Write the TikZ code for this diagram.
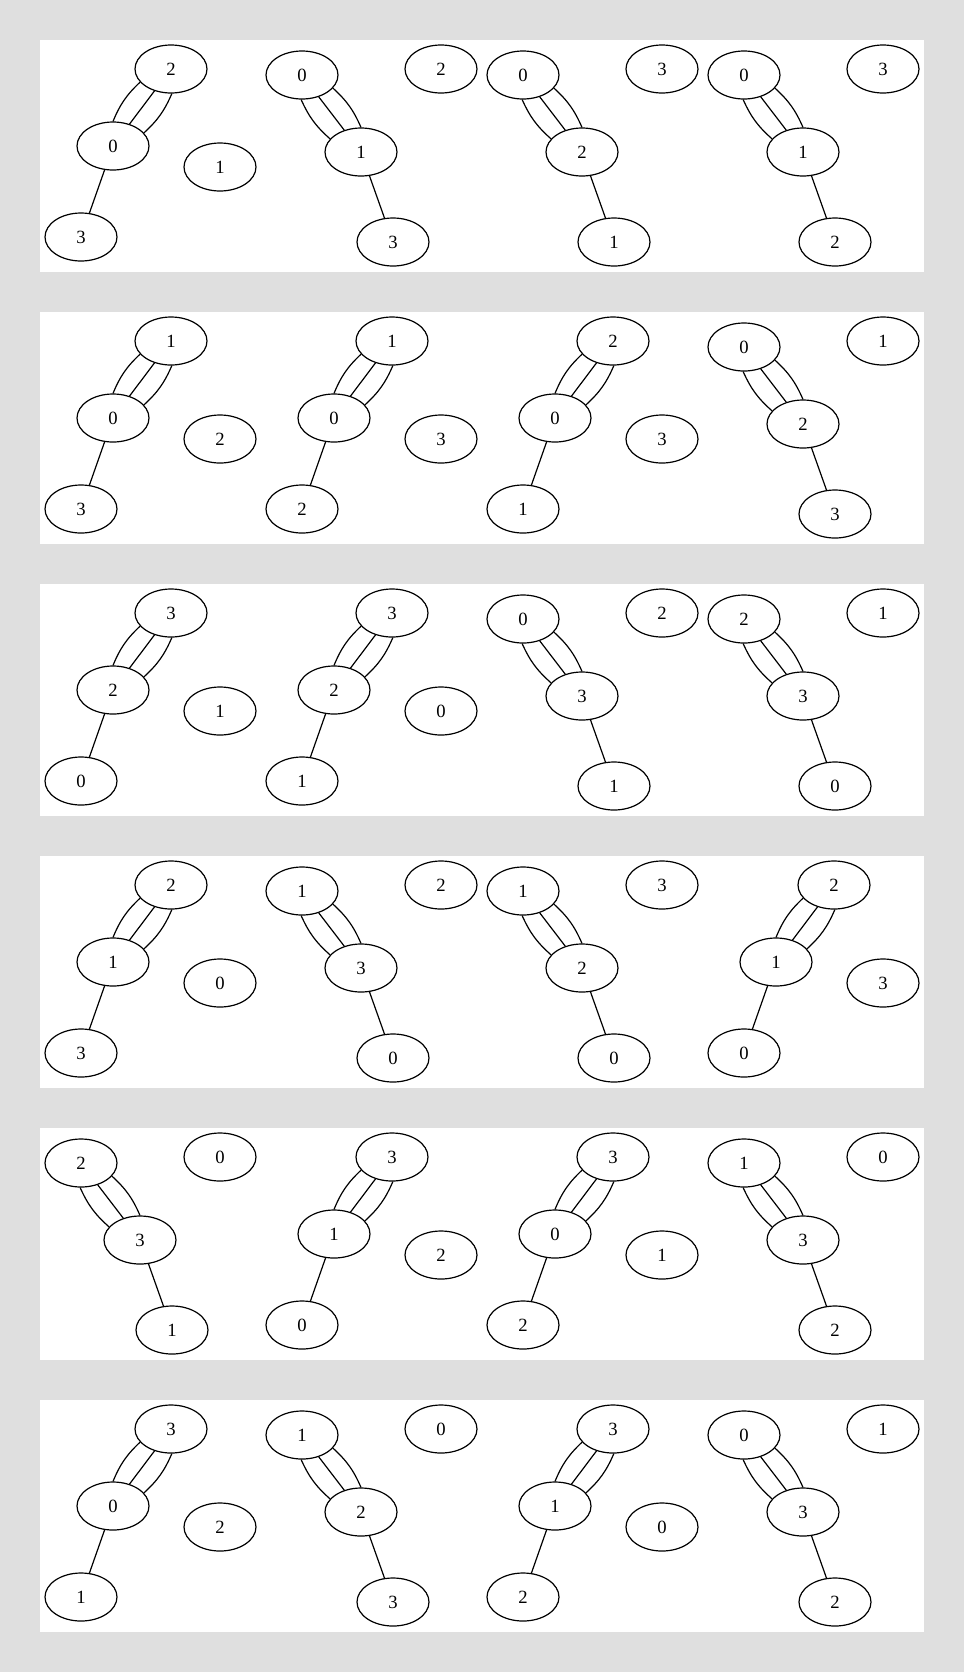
\documentclass[tikz,border=0pt]{standalone}
\usepackage{fontspec}
\setmainfont{Liberation Serif}
\usetikzlibrary{shapes.geometric}
\definecolor{pagegrey}{HTML}{DFDFDF}
\tikzset{
  vtx/.style={draw, ellipse, minimum width=54pt, minimum height=36pt, inner sep=0pt, line width=0.9pt, font=\fontsize{14}{16}\selectfont},
  bond/.style={line width=0.9pt}
}
% chain leaning right: triple bond up to the right, single bond down to the left
\newcommand{\molA}[7]{%
  \begin{scope}[shift={(#2,#3)}]
    \node[vtx] (#1t) at (171,69) {#4};
    \node[vtx] (#1m) at (113,146) {#5};
    \node[vtx] (#1b) at (81,237) {#6};
    \node[vtx] (#1i) at (220,167) {#7};
    \draw[bond] (#1t.203) to[bend right=12] (#1m.90);
    \draw[bond] (#1t) -- (#1m);
    \draw[bond] (#1t.272) to[bend left=12] (#1m.23);
    \draw[bond] (#1m) -- (#1b);
  \end{scope}%
}
% chain leaning left: triple bond up to the left, single bond down to the right
\newcommand{\molB}[7]{%
  \begin{scope}[shift={(#2,#3)}]
    \node[vtx] (#1t) at (81,75) {#4};
    \node[vtx] (#1m) at (140,152) {#5};
    \node[vtx] (#1b) at (172,242) {#6};
    \node[vtx] (#1i) at (220,69) {#7};
    \draw[bond] (#1t.337) to[bend left=12] (#1m.90);
    \draw[bond] (#1t) -- (#1m);
    \draw[bond] (#1t.268) to[bend right=12] (#1m.157);
    \draw[bond] (#1m) -- (#1b);
  \end{scope}%
}

\begin{document}
\begin{tikzpicture}[x=0.75pt, y=-0.75pt]
    \fill[pagegrey] (0,0) rectangle (964,1672);
    \foreach \k in {0,...,5} {
      \fill[white] (40,40+272*\k) rectangle (924,272+272*\k);
    }

    % row 1
    \molA{r1c1}{0}{0}{2}{0}{3}{1}
    \molB{r1c2}{221}{0}{0}{1}{3}{2}
    \molB{r1c3}{442}{0}{0}{2}{1}{3}
    \molB{r1c4}{663}{0}{0}{1}{2}{3}

    % row 2
    \molA{r2c1}{0}{272}{1}{0}{3}{2}
    \molA{r2c2}{221}{272}{1}{0}{2}{3}
    \molA{r2c3}{442}{272}{2}{0}{1}{3}
    \molB{r2c4}{663}{272}{0}{2}{3}{1}

    % row 3
    \molA{r3c1}{0}{544}{3}{2}{0}{1}
    \molA{r3c2}{221}{544}{3}{2}{1}{0}
    \molB{r3c3}{442}{544}{0}{3}{1}{2}
    \molB{r3c4}{663}{544}{2}{3}{0}{1}

    % row 4
    \molA{r4c1}{0}{816}{2}{1}{3}{0}
    \molB{r4c2}{221}{816}{1}{3}{0}{2}
    \molB{r4c3}{442}{816}{1}{2}{0}{3}
    \molA{r4c4}{663}{816}{2}{1}{0}{3}

    % row 5
    \molB{r5c1}{0}{1088}{2}{3}{1}{0}
    \molA{r5c2}{221}{1088}{3}{1}{0}{2}
    \molA{r5c3}{442}{1088}{3}{0}{2}{1}
    \molB{r5c4}{663}{1088}{1}{3}{2}{0}

    % row 6
    \molA{r6c1}{0}{1360}{3}{0}{1}{2}
    \molB{r6c2}{221}{1360}{1}{2}{3}{0}
    \molA{r6c3}{442}{1360}{3}{1}{2}{0}
    \molB{r6c4}{663}{1360}{0}{3}{2}{1}
\end{tikzpicture}
\end{document}
